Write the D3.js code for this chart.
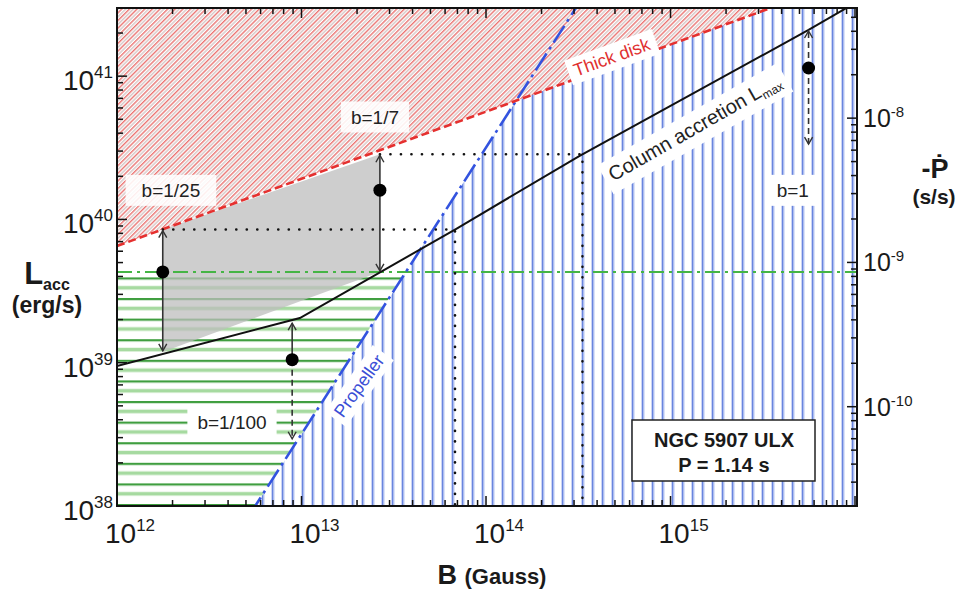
<!DOCTYPE html>
<html>
<head>
<meta charset="utf-8">
<script src="https://cdn.jsdelivr.net/npm/d3@7"></script>
<style>
  body { margin: 0; background: #fff; }
  text { font-family: "Liberation Sans", Arial, Helvetica, "DejaVu Sans", sans-serif; fill: #1a1a1a; }
</style>
</head>
<body>
<svg id="chart" width="957" height="591"></svg>
<script>
// axis ranges
const bDomain = [1e12, 1.025e16];
const lDomain = [1e38, 2.99e41];
const pdotDomain = [2.05e-11, 5.8e-8];
const bTicks = [1e12, 1e13, 1e14, 1e15];
const lTicks = [1e38, 1e39, 1e40, 1e41];
const pdotTicks = [1e-10, 1e-9, 1e-8];

// boundary curves (B in Gauss, L in erg/s)
const thickDiskB = [1e12, 1.025e16];
const thickDiskL = [6.53e39, 4.95e41];
const propellerB = [4.2e12, 4.2e14];
const propellerL = [5.6e37, 5.6e41];
const columnB = [1e12, 9.8e12, 6.9e13, 3.2e14, 5.6e15, 1.025e16];
const columnL = [9.5e38, 2.05e39, 8.6e39, 2.77e40, 2.1e41, 3.3e41];
const greenLevelL = 4.3e39;

// the four spin-up estimates
const bNames = ["b=1/25", "b=1/7", "b=1/100", "b=1"];
const pointB = [1.77e12, 2.66e13, 8.9e12, 5.6e15];
const pointL = [4.3e39, 1.6e40, 1.05e39, 1.14e41];
const rangeHigh = [8.5e39, 2.85e40, 1.92e39, 2.1e41];
const rangeLow = [1.19e39, 4.3e39, 2.9e38, 3.3e40];

var svg = d3.select("#chart"),
    pLeft = 117, pTop = 8, pRight = 857, pBottom = 506;

var x = d3.scaleLog().domain(bDomain).range([pLeft, pRight]);
var y = d3.scaleLog().domain(lDomain).range([pBottom, pTop]);
var yr = d3.scaleLog().domain(pdotDomain).range([pBottom, pTop]);

function loglog(xs, ys, v) {
  var lv = Math.log10(v);
  for (var i = 0; i < xs.length - 1; i++) {
    var a = Math.log10(xs[i]), b = Math.log10(xs[i + 1]);
    if ((lv >= a && lv <= b) || i === xs.length - 2) {
      var t = (lv - a) / (b - a);
      return Math.pow(10, Math.log10(ys[i]) + t * (Math.log10(ys[i + 1]) - Math.log10(ys[i])));
    }
  }
}

var defs = svg.append("defs");
defs.append("clipPath").attr("id", "plotClip")
  .append("rect").attr("x", pLeft).attr("y", pTop).attr("width", pRight - pLeft).attr("height", pBottom - pTop);

// hatch patterns
var red = defs.append("pattern").attr("id", "redHatch").attr("patternUnits", "userSpaceOnUse")
  .attr("width", 5.4).attr("height", 5.4).attr("patternTransform", "rotate(45)");
red.append("rect").attr("width", 5.4).attr("height", 5.4).attr("fill", "#fff");
red.append("rect").attr("width", 1.4).attr("height", 5.4).attr("fill", "#ea7472");
red.append("rect").attr("x", 3.3).attr("width", 0.5).attr("height", 5.4).attr("fill", "#8a6060");

var blue = defs.append("pattern").attr("id", "blueHatch").attr("patternUnits", "userSpaceOnUse")
  .attr("x", 1.7).attr("width", 10).attr("height", 10);
blue.append("rect").attr("width", 10).attr("height", 10).attr("fill", "#fff");
blue.append("rect").attr("width", 2.6).attr("height", 10).attr("fill", "#a9bbf0");
blue.append("rect").attr("width", 1.1).attr("height", 10).attr("fill", "#5171d8");

var green = defs.append("pattern").attr("id", "greenHatch").attr("patternUnits", "userSpaceOnUse")
  .attr("y", 9.6).attr("width", 10).attr("height", 20.6);
green.append("rect").attr("width", 10).attr("height", 20.6).attr("fill", "#fff");
green.append("rect").attr("width", 10).attr("height", 2.2).attr("fill", "#3f9e3f");
green.append("rect").attr("y", 8.6).attr("width", 10).attr("height", 3.6).attr("fill", "#a6daa0");

function arrowMarker(id, color) {
  defs.append("marker").attr("id", id).attr("viewBox", "-9 -6 11 12")
    .attr("refX", 0).attr("refY", 0).attr("markerUnits", "userSpaceOnUse")
    .attr("markerWidth", 11).attr("markerHeight", 12).attr("orient", "auto")
    .append("path").attr("d", "M-7,-4 L0,0 L-7,4").attr("fill", "none")
    .attr("stroke", color).attr("stroke-width", 1.4);
}
arrowMarker("arrowDark", "#333");

var g = svg.append("g").attr("clip-path", "url(#plotClip)");
var area = d3.line().x(function(d) { return x(d[0]); }).y(function(d) { return y(d[1]); });

var bMin = bDomain[0], bMax = bDomain[1], lMin = lDomain[0], lMax = lDomain[1];

// propeller regime (blue)
g.append("path")
  .attr("d", area([[loglog(propellerL, propellerB, lMin), lMin], [loglog(propellerL, propellerB, lMax), lMax],
                   [bMax, lMax], [bMax, lMin]]) + "Z")
  .attr("fill", "url(#blueHatch)");

// green region
g.append("path")
  .attr("d", area([[bMin, greenLevelL], [loglog(propellerL, propellerB, greenLevelL), greenLevelL],
                   [loglog(propellerL, propellerB, lMin), lMin], [bMin, lMin]]) + "Z")
  .attr("fill", "url(#greenHatch)");

// allowed range (gray)
g.append("path")
  .attr("d", area([[pointB[0], rangeHigh[0]], [pointB[1], rangeHigh[1]],
                   [pointB[1], rangeLow[1]], [pointB[0], rangeLow[0]]]) + "Z")
  .attr("fill", "#bdbdbd").attr("fill-opacity", 0.75);

// thick disk (red)
g.append("path")
  .attr("d", area([[thickDiskB[0], thickDiskL[0]], [thickDiskB[1], thickDiskL[1]],
                   [bMax, lMax * 3], [bMin, lMax * 3]]) + "Z")
  .attr("fill", "url(#redHatch)");

// boundary lines
g.append("line")
  .attr("x1", x(bMin)).attr("x2", x(bMax)).attr("y1", y(greenLevelL)).attr("y2", y(greenLevelL))
  .attr("stroke", "#45b545").attr("stroke-width", 2).attr("stroke-dasharray", "15,5,3,5");

g.append("path").attr("d", area(d3.zip(propellerB, propellerL)))
  .attr("fill", "none").attr("stroke", "#3353df").attr("stroke-width", 2.6)
  .attr("stroke-dasharray", "20,5,3,5");

g.append("path").attr("d", area(d3.zip(thickDiskB, thickDiskL)))
  .attr("fill", "none").attr("stroke", "#e5302f").attr("stroke-width", 2.6)
  .attr("stroke-dasharray", "8,4");

g.append("path").attr("d", area(d3.zip(columnB, columnL)))
  .attr("fill", "none").attr("stroke", "#111").attr("stroke-width", 2);

// dotted guides from the upper ends of b=1/25 and b=1/7 to the column line
[0, 1].forEach(function(i) {
  var bCross = loglog(columnL, columnB, rangeHigh[i]);
  g.append("path")
    .attr("d", area([[pointB[i], rangeHigh[i]], [bCross, rangeHigh[i]], [bCross, lMin]]))
    .attr("fill", "none").attr("stroke", "#111").attr("stroke-width", 2.6)
    .attr("stroke-linecap", "round").attr("stroke-dasharray", "0.1,10.4");
});

// labels with white boxes
function boxedLabel(b, l, angle, pieces, opts) {
  var lg = svg.append("g")
    .attr("transform", "translate(" + x(b) + "," + y(l) + ") rotate(" + angle + ")");
  var t = lg.append("text").attr("text-anchor", "middle").attr("dy", "0.35em")
    .style("font-size", opts.size + "px").style("fill", opts.color);
  pieces.forEach(function(p) {
    var s = t.append("tspan").text(p.text);
    if (p.sub) s.attr("dy", p.dy).style("font-size", p.sub + "px");
  });
  var bb = t.node().getBBox();
  lg.insert("rect", "text")
    .attr("x", bb.x - opts.padX).attr("y", bb.y - opts.padY)
    .attr("width", bb.width + 2 * opts.padX).attr("height", bb.height + 2 * opts.padY)
    .attr("fill", "#fff").attr("fill-opacity", opts.opacity || 1);
}

function segAngle(bs, ls) {
  return Math.atan2(y(ls[1]) - y(ls[0]), x(bs[1]) - x(bs[0])) * 180 / Math.PI;
}

var labelB = [1.96e12, 2.5e13, 4.2e12, 4.6e15];
var labelL = [1.6e40, 5.2e40, 3.85e38, 1.6e40];
bNames.forEach(function(name, i) {
  boxedLabel(labelB[i], labelL[i], 0, [{ text: name }],
    { size: 19, color: "#222", padX: i === 0 ? 16 : 10, padY: 5, opacity: i < 2 ? 0.88 : 1 });
});

boxedLabel(4.8e14, 1.36e41, segAngle(thickDiskB, thickDiskL), [{ text: "Thick disk" }],
  { size: 18, color: "#e0302f", padX: 6, padY: 3 });
boxedLabel(1.35e15, 4.4e40, segAngle(columnB.slice(1, 3), columnL.slice(1, 3)),
  [{ text: "Column accretion L" }, { text: "max", sub: 12, dy: 4 }],
  { size: 20, color: "#222", padX: 6, padY: 4 });
boxedLabel(2.05e13, 6.9e38, segAngle(propellerB, propellerL) + 3, [{ text: "Propeller" }],
  { size: 18, color: "#3a4ed6", padX: 5, padY: 3 });

// error bars and points
pointB.forEach(function(b, i) {
  var upDashed = i === 3, downDashed = i >= 2;
  svg.append("line")
    .attr("x1", x(b)).attr("x2", x(b)).attr("y1", y(pointL[i])).attr("y2", y(rangeHigh[i]) + 1)
    .attr("stroke", "#333").attr("stroke-width", 1.6)
    .attr("stroke-dasharray", upDashed ? "6,4" : null)
    .attr("marker-end", "url(#arrowDark)");
  svg.append("line")
    .attr("x1", x(b)).attr("x2", x(b)).attr("y1", y(pointL[i])).attr("y2", y(rangeLow[i]) - 1)
    .attr("stroke", "#333").attr("stroke-width", 1.6)
    .attr("stroke-dasharray", downDashed ? "6,4" : null)
    .attr("marker-end", "url(#arrowDark)");
  svg.append("circle").attr("cx", x(b)).attr("cy", y(pointL[i])).attr("r", 6.5).attr("fill", "#000");
});

// source box
var legend = svg.append("g");
legend.append("rect").attr("x", 632).attr("y", 420).attr("width", 183).attr("height", 61)
  .attr("fill", "#fff").attr("stroke", "#222").attr("stroke-width", 1.5);
legend.append("text").attr("x", 724).attr("y", 447).attr("text-anchor", "middle")
  .style("font-size", "20px").style("font-weight", "bold").text("NGC 5907 ULX");
legend.append("text").attr("x", 724).attr("y", 472).attr("text-anchor", "middle")
  .style("font-size", "20px").style("font-weight", "bold").text("P = 1.14 s");

// frame and ticks
var axes = svg.append("g").attr("stroke", "#111").attr("stroke-width", 1.5);
function isMajor(list, v) { return list.some(function(t) { return Math.abs(Math.log10(t / v)) < 1e-6; }); }
var bAll = x.ticks(), lAll = y.ticks(), pAll = yr.ticks();
var bMajors = bAll.filter(function(v) { return Math.abs(Math.log10(v) % 1) < 1e-6; });
bAll.forEach(function(v) {
  var len = isMajor(bMajors, v) ? 10 : 6;
  axes.append("line").attr("x1", x(v)).attr("x2", x(v)).attr("y1", pBottom).attr("y2", pBottom - len);
  axes.append("line").attr("x1", x(v)).attr("x2", x(v)).attr("y1", pTop).attr("y2", pTop + len);
});
lAll.forEach(function(v) {
  var len = isMajor(lTicks, v) ? 10 : 6;
  axes.append("line").attr("x1", pLeft).attr("x2", pLeft + len).attr("y1", y(v)).attr("y2", y(v));
});
pAll.forEach(function(v) {
  var len = isMajor(pdotTicks, v) ? 10 : 6;
  axes.append("line").attr("x1", pRight).attr("x2", pRight - len).attr("y1", yr(v)).attr("y2", yr(v));
});
svg.append("rect").attr("x", pLeft).attr("y", pTop).attr("width", pRight - pLeft).attr("height", pBottom - pTop)
  .attr("fill", "none").attr("stroke", "#111").attr("stroke-width", 2);

function powerLabel(sel, v, baseSize, supSize, raise) {
  sel.append("tspan").text("10");
  sel.append("tspan").attr("dy", -raise).style("font-size", supSize + "px")
    .text(String(Math.round(Math.log10(v))));
  sel.style("font-size", baseSize + "px");
}

bTicks.forEach(function(v) {
  powerLabel(svg.append("text").attr("x", x(v) - 12).attr("y", 543), v, 28, 17, 12);
});
lTicks.forEach(function(v) {
  powerLabel(svg.append("text").attr("x", 113).attr("y", y(v) + 14).attr("text-anchor", "end"), v, 28, 17, 12);
});
pdotTicks.forEach(function(v) {
  powerLabel(svg.append("text").attr("x", 863).attr("y", yr(v) + 9), v, 25, 15, 10);
});

// axis titles
var lt = svg.append("text").attr("x", 47).attr("y", 284).attr("text-anchor", "middle").style("font-weight", "bold");
lt.append("tspan").style("font-size", "31px").text("L");
lt.append("tspan").attr("dy", 6).style("font-size", "16px").text("acc");
svg.append("text").attr("x", 47).attr("y", 313).attr("text-anchor", "middle")
  .style("font-weight", "bold").style("font-size", "23px").text("(erg/s)");

var bt = svg.append("text").attr("x", 492).attr("y", 584).attr("text-anchor", "middle").style("font-weight", "bold");
bt.append("tspan").style("font-size", "27px").text("B ");
bt.append("tspan").style("font-size", "22px").text("(Gauss)");

svg.append("text").attr("x", 935).attr("y", 178).attr("text-anchor", "middle")
  .style("font-weight", "bold").style("font-size", "27px").text("-Ṗ");
svg.append("text").attr("x", 934).attr("y", 204).attr("text-anchor", "middle")
  .style("font-weight", "bold").style("font-size", "21px").text("(s/s)");
</script>
</body>
</html>
